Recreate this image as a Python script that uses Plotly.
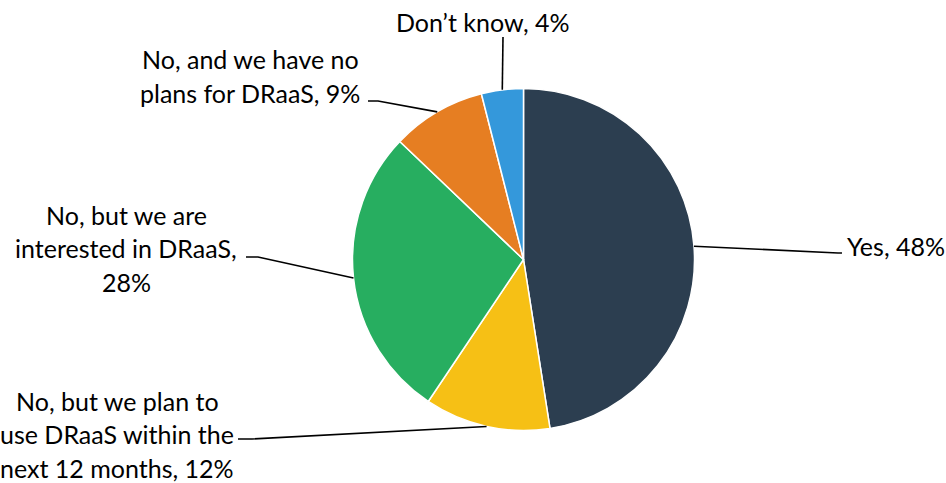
import math
import plotly.graph_objects as go

# Survey responses: is DRaaS in use?
labels = [
    "Yes",
    "No, but we plan to use DRaaS within the next 12 months",
    "No, but we are interested in DRaaS",
    "No, and we have no plans for DRaaS",
    "Don\u2019t know",
]
values = [48, 12, 28, 9, 4]
label_lines = [
    ["Yes, 48%"],
    ["No, but we plan to", "use DRaaS within the", "next 12 months, 12%"],
    ["No, but we are", "interested in DRaaS,", "28%"],
    ["No, and we have no", "plans for DRaaS, 9%"],
    ["Don\u2019t know, 4%"],
]
colors = ["#2C3E50", "#F6C015", "#27AE60", "#E67E22", "#3498DB"]

W, H = 946, 483
CX, CY, R = 523.5, 259.5, 171.0  # pie centre and radius in pixels
LINE_GAP = 33.5  # spacing between label lines, pixels

# Label placement (pixel coords): centre of the text block, alignment, and leader elbow points
label_pos = [
    dict(x=845, y=246, xanchor="left"),
    dict(x=117, y=434, xanchor="center"),
    dict(x=126, y=248, xanchor="center"),
    dict(x=250, y=76, xanchor="center"),
    dict(x=483, y=22, xanchor="center"),
]
elbows = [
    [(838, 253), (842, 253)],
    [(252, 439), (238, 439)],
    [(258, 257), (246, 257)],
    [(378, 101), (368, 101)],
    [(503, 37)],
]


def px(x, y):
    return x / W, 1 - y / H


fig = go.Figure()
fig.add_trace(
    go.Pie(
        labels=labels,
        values=values,
        sort=False,
        direction="clockwise",
        rotation=0,
        textinfo="none",
        hoverinfo="label+percent",
        marker=dict(colors=colors, line=dict(color="white", width=1.5)),
        domain=dict(
            x=[(CX - R) / W, (CX + R) / W],
            y=[1 - (CY + R) / H, 1 - (CY - R) / H],
        ),
        showlegend=False,
    )
)

total = sum(values)
shapes = []
annotations = []
cum = 0
for i, v in enumerate(values):
    mid = (cum + v / 2) / total * 2 * math.pi
    cum += v
    ex = CX + R * math.sin(mid)
    ey = CY - R * math.cos(mid)
    pts = [(ex, ey)] + elbows[i]
    path = ""
    for j, (x, y) in enumerate(pts):
        u, w = px(x, y)
        path += ("M" if j == 0 else " L") + f" {u:.5f} {w:.5f}"
    shapes.append(
        dict(type="path", xref="paper", yref="paper", path=path,
             line=dict(color="black", width=1.6))
    )
    lp = label_pos[i]
    lines = label_lines[i]
    n = len(lines)
    for k, line in enumerate(lines):
        ly = lp["y"] + (k - (n - 1) / 2) * LINE_GAP
        u, w = px(lp["x"], ly)
        annotations.append(
            dict(
                x=u, y=w, xref="paper", yref="paper",
                text=line, showarrow=False,
                xanchor=lp["xanchor"], yanchor="middle", align="center",
                font=dict(family="Lato", size=25, color="black"),
            )
        )

fig.update_layout(
    width=W,
    height=H,
    margin=dict(l=0, r=0, t=0, b=0),
    paper_bgcolor="white",
    plot_bgcolor="white",
    shapes=shapes,
    annotations=annotations,
)

fig.write_html("out.html")
